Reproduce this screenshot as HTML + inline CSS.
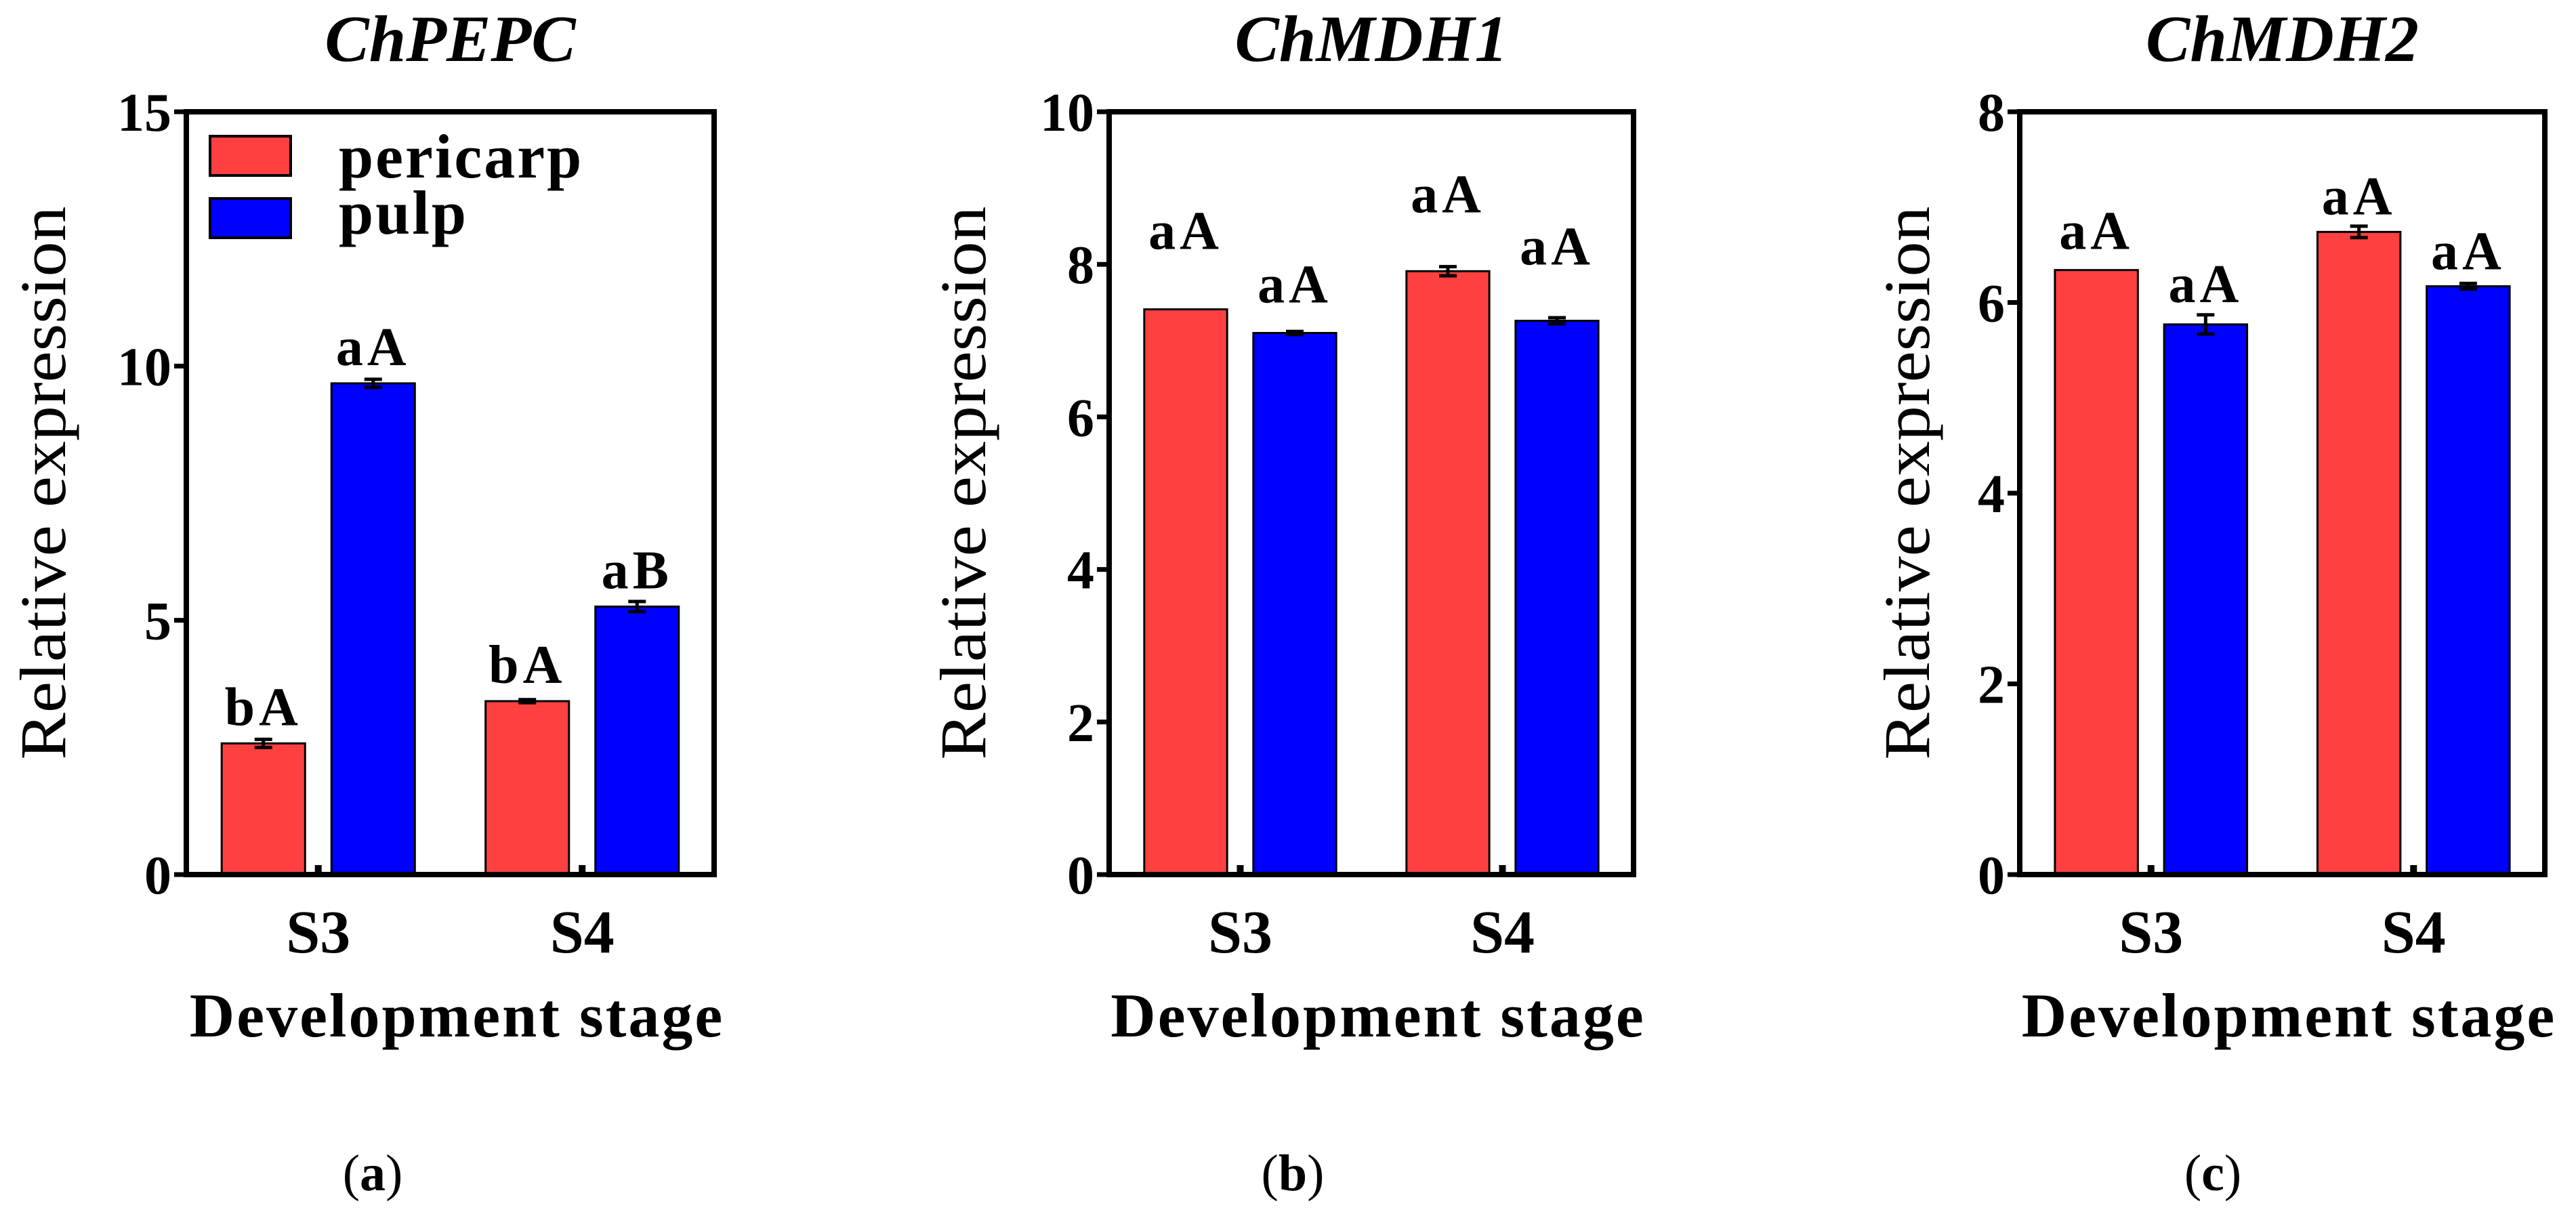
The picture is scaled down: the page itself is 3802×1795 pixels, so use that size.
<!DOCTYPE html>
<html><head><meta charset="utf-8"><style>
html,body{margin:0;padding:0;background:#fff;}
svg{display:block;font-family:"Liberation Serif","DejaVu Serif",serif;}
svg text{font-family:"Liberation Serif","DejaVu Serif",serif;fill:#000;}
</style></head><body>
<svg id="chart" width="3802" height="1795" viewBox="0 0 3802 1795" font-family="Liberation Serif, DejaVu Serif, serif" xmlns="http://www.w3.org/2000/svg"></svg>
<script>
const categories = ["S3", "S4"];
const seriesNames = ["pericarp", "pulp"];
const titlesA = ["ChPEPC", "ChMDH1", "ChMDH2"];
const panelLetters = ["(a)", "(b)", "(c)"];
const pericarpA = [2.58, 3.41];
const pulpA = [9.66, 5.27];
const pericarpErrA = [0.08, 0.03];
const pulpErrA = [0.08, 0.1];
const pericarpB = [7.41, 7.91];
const pulpB = [7.10, 7.26];
const pericarpErrB = [0, 0.06];
const pulpErrB = [0.02, 0.04];
const pericarpC = [6.34, 6.74];
const pulpC = [5.77, 6.17];
const pericarpErrC = [0, 0.06];
const pulpErrC = [0.1, 0.03];
const pericarpLabelsA = ["bA", "bA"];
const pulpLabelsA = ["aA", "aB"];
const pericarpLabelsB = ["aA", "aA"];
const pulpLabelsB = ["aA", "aA"];
const pericarpLabelsC = ["aA", "aA"];
const pulpLabelsC = ["aA", "aA"];
const ticksA = [0, 5, 10, 15];
const ticksB = [0, 2, 4, 6, 8, 10];
const ticksC = [0, 2, 4, 6, 8];

const NS = "http://www.w3.org/2000/svg";
const FONT = "Liberation Serif, DejaVu Serif, serif";
const svg = document.getElementById("chart");
function mk(tag, attrs, parent, txt) {
  const e = document.createElementNS(NS, tag);
  for (const k in attrs) e.setAttribute(k, attrs[k]);
  if (tag === "text") e.setAttribute("font-family", FONT);
  if (txt !== undefined) e.textContent = txt;
  (parent || svg).appendChild(e);
  return e;
}

const panels = [
  {L:275, R:1054, max:15, ticks:ticksA, title:titlesA[0], s1:pericarpA, s2:pulpA, e1:pericarpErrA, e2:pulpErrA, l1:pericarpLabelsA, l2:pulpLabelsA, ytitleX:96, letter:panelLetters[0], legend:true, lblGap:[27,27,27,27]},
  {L:1637, R:2411, max:10, ticks:ticksB, title:titlesA[1], s1:pericarpB, s2:pulpB, e1:pericarpErrB, e2:pulpErrB, l1:pericarpLabelsB, l2:pulpLabelsB, ytitleX:1454, letter:panelLetters[1], legend:false, lblGap:[89,45,87,83]},
  {L:2981, R:3756, max:8, ticks:ticksC, title:titlesA[2], s1:pericarpC, s2:pulpC, e1:pericarpErrC, e2:pulpErrC, l1:pericarpLabelsC, l2:pulpLabelsC, ytitleX:2847, letter:panelLetters[2], legend:false, lblGap:[31,33,26,25]}
];
const TOP = 165, BOT = 1291;

panels.forEach((p, pi) => {
  const g = mk("g", {});
  
  
  const W = p.R - p.L;
  const y = v => BOT - v / p.max * (BOT - TOP);
  const groupW = W / 2;
  const barW = W * 0.158;
  const gap = W * 0.05;
  const xc = i => p.L + groupW * (i + 0.5);

  const t = mk("text", {x:(p.L + p.R) / 2, y:90, "text-anchor":"middle", "font-size":98, "font-style":"italic", "font-weight":"bold"}, g, p.title);
  
  

  categories.forEach((c, i) => {
    const series = [[p.s1, p.e1, p.l1, "#ff4040"], [p.s2, p.e2, p.l2, "#0000ff"]];
    series.forEach((s, si) => {
      const v = s[0][i], err = s[1][i];
      const x0 = si === 0 ? xc(i) - gap / 2 - barW : xc(i) + gap / 2;
      const r = mk("rect", {x:x0, y:y(v), width:barW, height:BOT - y(v), fill:s[3], stroke:"#000", "stroke-width":3}, g);
      
      
      const cx = x0 + barW / 2;
      if (err > 0) {
        const eb = mk("path", {d:`M${cx},${y(v+err)}V${y(v-err)}M${cx-13},${y(v+err)}H${cx+13}M${cx-13},${y(v-err)}H${cx+13}`, stroke:"#000", "stroke-width":5, fill:"none"}, g);
        
        
      }
      const lab = mk("text", {x:cx, y:y(v) - p.lblGap[i * 2 + si], "text-anchor":"middle", "font-size":80, "font-weight":"bold", "letter-spacing":6}, g, s[2][i]);
      
      
    });
    const m = mk("rect", {x:xc(i) - 5, y:BOT - 14, width:10, height:14, fill:"#000"}, g);
    
    
    const cl = mk("text", {x:xc(i), y:1406, "text-anchor":"middle", "font-size":90, "font-weight":"bold"}, g, c);
    
    
  });

  const f = mk("rect", {x:p.L, y:TOP, width:W, height:BOT - TOP, fill:"none", stroke:"#000", "stroke-width":8}, g);
  
  

  p.ticks.forEach(tv => {
    const tk = mk("line", {x1:p.L - 18, x2:p.L, y1:y(tv), y2:y(tv), stroke:"#000", "stroke-width":7}, g);
    
    
    const tl = mk("text", {x:p.L - 22, y:y(tv) + 28, "text-anchor":"end", "font-size":80, "font-weight":"bold"}, g, String(tv));
    
    
  });

  const yt = mk("text", {x:0, y:0, transform:`translate(${p.ytitleX},713) rotate(-90)`, "text-anchor":"middle", "font-size":96, textLength:817, lengthAdjust:"spacingAndGlyphs"}, g, "Relative expression");
  
  

  const xt = mk("text", {x:(p.L + p.R) / 2 + 10, y:1530, "text-anchor":"middle", "font-size":92, "font-weight":"bold", "letter-spacing":3}, g, "Development stage");
  
  

  const pl = mk("text", {x:[550, 1908, 3266][pi], y:1757, "text-anchor":"middle", "font-size":76}, g);
  
  
  mk("tspan", {}, pl, "(");
  mk("tspan", {"font-weight":"bold"}, pl, p.letter.slice(1, 2));
  mk("tspan", {}, pl, ")");

  if (p.legend) {
    const lg = mk("g", {}, g);
    
    
    [["#ff4040", 201, 262], ["#0000ff", 293, 345]].forEach((it, k) => {
      const sw = mk("rect", {x:310, y:it[1], width:119, height:58, fill:it[0], stroke:"#000", "stroke-width":4}, lg);
      
      
      const lt = mk("text", {x:500, y:it[2], "font-size":92, "font-weight":"bold", "letter-spacing":3}, lg, seriesNames[k]);
      
      
    });
  }
});
</script>
</body></html>
